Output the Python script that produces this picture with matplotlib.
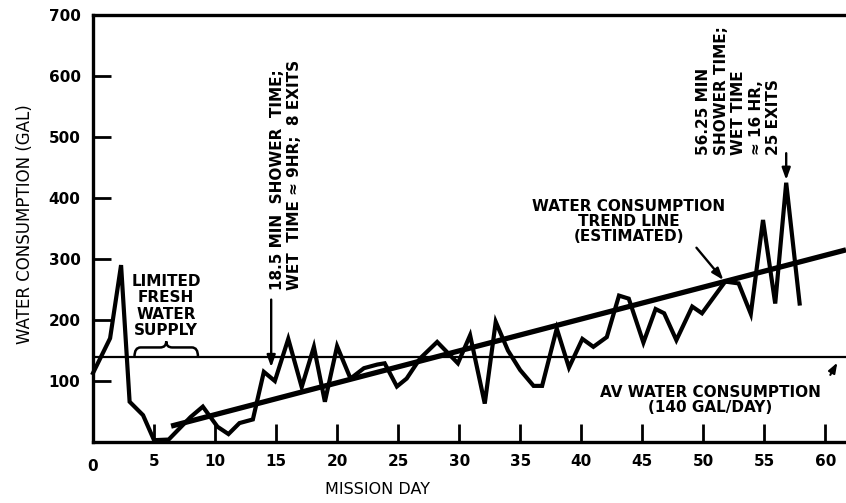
import matplotlib
matplotlib.use("Agg")
import matplotlib.pyplot as plt
from matplotlib.path import Path
from matplotlib.patches import PathPatch

# ---- data ----
days = [0, 1.4, 2.3, 3.0, 4.1, 5.0, 6.2, 8.0, 9.0, 10.2, 11.1, 12.0, 13.1, 14.0, 14.9,
        16.0, 17.1, 18.1, 19.0, 20.0, 21.1, 22.2, 23.3, 23.9, 24.9, 25.7, 26.8, 28.2,
        29.9, 30.9, 32.1, 33.0, 34.0, 35.0, 36.1, 36.8, 38.0, 39.0, 40.1, 41.0, 42.1,
        43.1, 43.9, 45.1, 46.1, 46.8, 47.8, 49.1, 49.9, 51.8, 52.9, 53.9, 54.9, 55.9,
        56.8, 57.9]
consumption = [113, 170, 290, 66, 44, 3, 4, 41, 58, 25, 13, 31, 37, 115, 100,
               169, 90, 156, 66, 157, 104, 121, 127, 129, 91, 104, 137, 164,
               129, 175, 63, 197, 150, 118, 92, 92, 186, 122, 169, 156, 172,
               240, 235, 163, 218, 211, 167, 222, 211, 263, 260, 210, 364, 227,
               425, 227]
trend_days = [6.4, 61.7]
trend_values = [26, 315]
average = 140

x_ticks = [5, 10, 15, 20, 25, 30, 35, 40, 45, 50, 55, 60]
y_ticks = [100, 200, 300, 400, 500, 600, 700]

W, H = 846, 503
fig = plt.figure(figsize=(W / 100, H / 100), dpi=100)
ax = fig.add_axes([93 / W, 1 - 442 / H, (W - 93) / W, (442 - 15) / H])
ax.set_xlim(0, 61.7)
ax.set_ylim(0, 700)

for s in ["left", "bottom", "top"]:
    ax.spines[s].set_linewidth(2.4)
ax.spines["right"].set_visible(False)

ax.set_xticks(x_ticks)
ax.set_yticks(y_ticks)
ax.tick_params(direction="in", length=13, width=2.0, labelsize=11, pad=9)
for lab in ax.get_xticklabels() + ax.get_yticklabels():
    lab.set_fontweight("bold")
ax.text(0, -0.04, "0", transform=ax.get_xaxis_transform(), ha="center", va="top",
        fontsize=11, fontweight="bold")

fig.text(25 / W, 1 - 224 / H, "WATER CONSUMPTION (GAL)", rotation=90,
         ha="center", va="center", fontsize=12)
fig.text(377 / W, 1 - 490 / H, "MISSION DAY", ha="center", va="center", fontsize=11.5)

ax.axhline(average, color="black", lw=1.6, zorder=2)
ax.plot(trend_days, trend_values, color="black", lw=3.8, solid_capstyle="butt", zorder=3)
ax.plot(days, consumption, color="black", lw=3.0, solid_joinstyle="miter", zorder=4,
        clip_on=False)

tf = dict(fontsize=11, fontweight="bold", color="black")
arrow = dict(arrowstyle="-|>,head_length=0.7,head_width=0.25", color="black", lw=1.7)

# limited fresh water supply
ax.text(6.0, 223, "LIMITED\nFRESH\nWATER\nSUPPLY", ha="center", va="center",
        linespacing=1.1, **tf)
x0, x1, xm = 3.4, 8.6, 6.0
yb, yy, yt = 140, 155, 165
verts = [(x0, yb), (x0, yy), (x0 + 0.5, yy), (xm - 0.5, yy), (xm, yy), (xm, yt),
         (xm, yy), (xm + 0.5, yy), (x1 - 0.5, yy), (x1, yy), (x1, yb)]
codes = [Path.MOVETO, Path.CURVE3, Path.CURVE3, Path.LINETO, Path.CURVE3, Path.CURVE3,
         Path.CURVE3, Path.CURVE3, Path.LINETO, Path.CURVE3, Path.CURVE3]
ax.add_patch(PathPatch(Path(verts, codes), fill=False, lw=1.8, color="black", zorder=5))

# 18.5 min annotation
ax.text(15.8, 249, "18.5 MIN  SHOWER  TIME;\nWET  TIME ≈ 9HR;  8 EXITS", rotation=90,
        ha="center", va="bottom", multialignment="left", linespacing=1.2, **tf)
ax.annotate("", xy=(14.6, 118), xytext=(14.6, 238), arrowprops=arrow)

# 56.25 min annotation
ax.text(52.9, 470, "56.25 MIN\nSHOWER TIME;\nWET TIME\n≈ 16 HR,\n25 EXITS",
        rotation=90, ha="center", va="bottom", multialignment="left",
        linespacing=1.2, **tf)
ax.annotate("", xy=(56.8, 425), xytext=(56.8, 478), arrowprops=arrow)

# trend line label
ax.text(43.9, 362, "WATER CONSUMPTION\nTREND LINE\n(ESTIMATED)", ha="center",
        va="center", linespacing=1.0, **tf)
ax.annotate("", xy=(51.8, 262), xytext=(49.3, 322), arrowprops=arrow)

# average label
ax.text(50.6, 69, "AV WATER CONSUMPTION\n(140 GAL/DAY)", ha="center", va="center",
        linespacing=1.0, **tf)
ax.annotate("", xy=(61.1, 134), xytext=(60.3, 106),
            arrowprops=dict(arrowstyle="-|>,head_length=0.6,head_width=0.22",
                            color="black", lw=1.5))

fig.savefig("out.png", dpi=100)
